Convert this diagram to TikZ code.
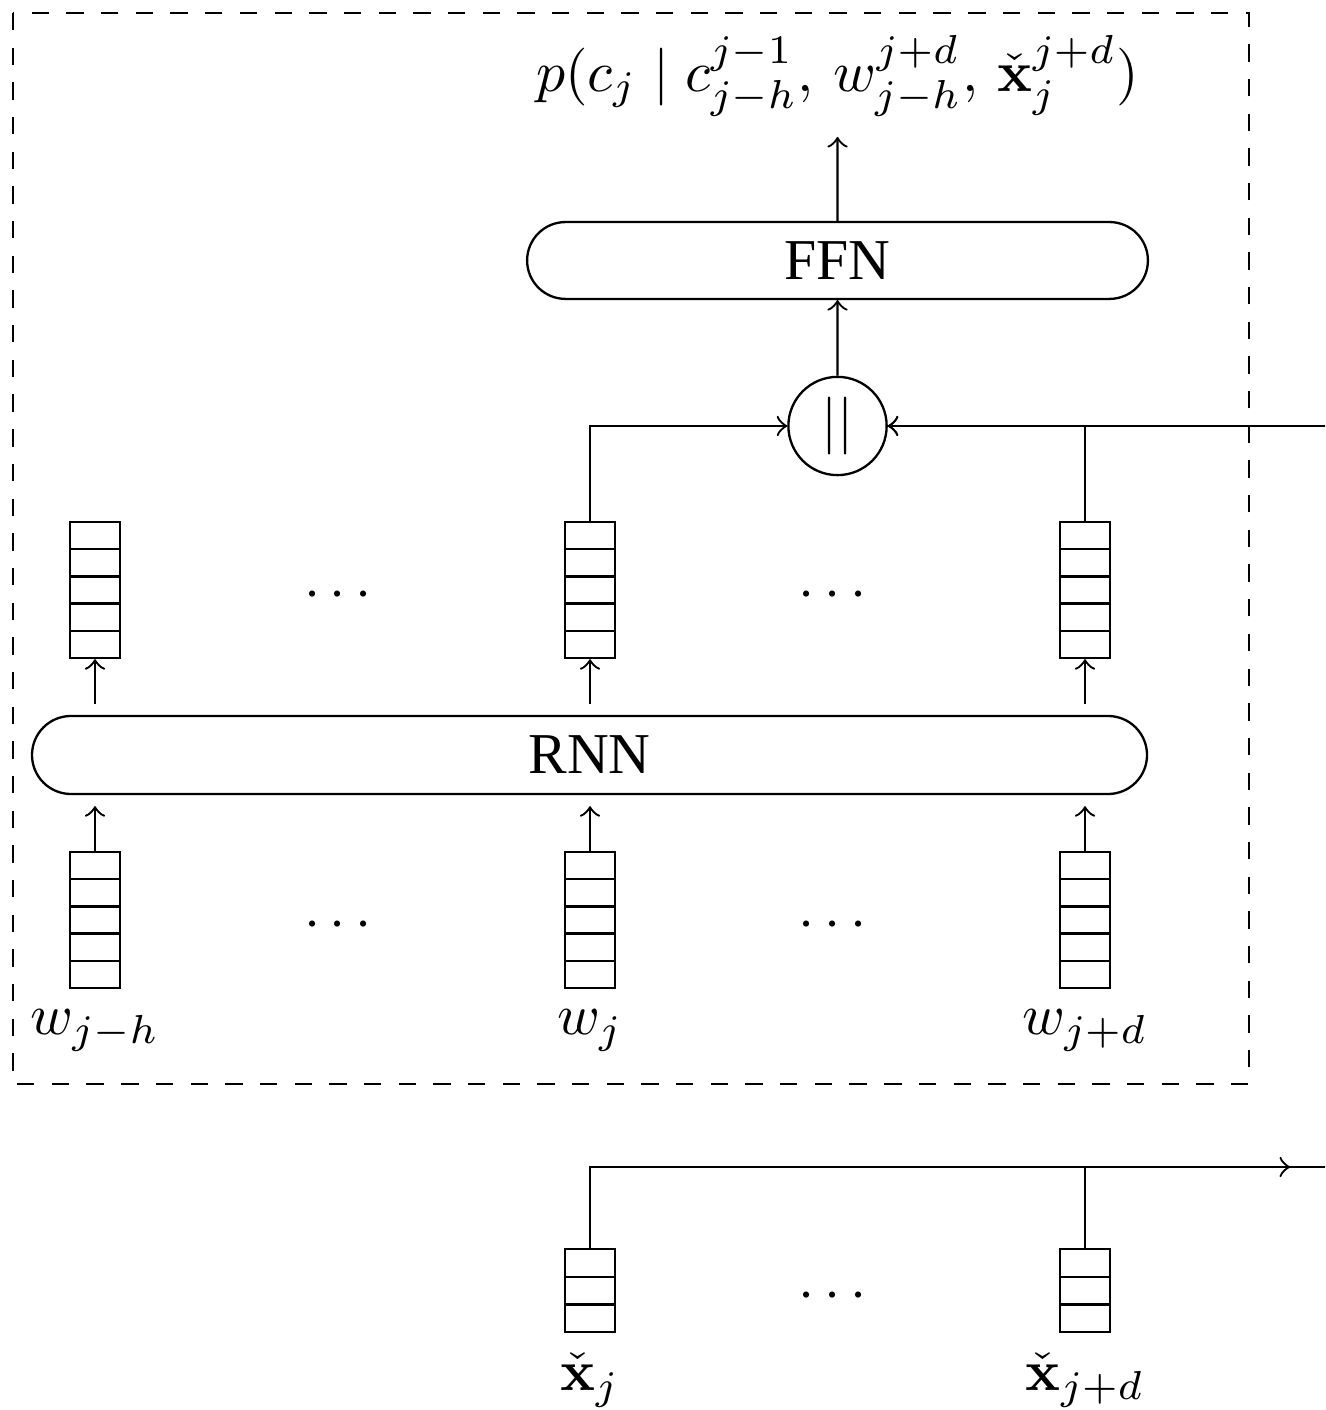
\documentclass[tikz,border=0pt]{standalone}
\usepackage[no-math]{fontspec}
\setmainfont{Liberation Serif}
\usetikzlibrary{shapes.misc,calc}

\tikzset{
  cells/.style={
    path picture={
      \foreach \f in {#1}
        \draw ($(path picture bounding box.south west)!\f!(path picture bounding box.north west)$)
           -- ($(path picture bounding box.south east)!\f!(path picture bounding box.north east)$);
    }
  },
  vecfive/.style={draw, rectangle, inner sep=0pt, minimum width=8.65pt,
    minimum height=23.53pt, cells={0.2,0.4,0.6,0.8}},
  vecthree/.style={draw, rectangle, inner sep=0pt, minimum width=8.65pt,
    minimum height=14.36pt, cells={0.3333,0.6667}},
  pill/.style={draw, rounded rectangle, inner sep=0pt},
  catnode/.style={draw, circle, inner sep=0pt, minimum size=17pt},
  frame/.style={dashed},
  lbl/.style={below},
  dots/.style={yshift=-1.05pt}
}

\begin{document}
\begin{tikzpicture}[x=0.173pt, y=-0.173pt, >=to]
  \path[use as bounding box, clip] (0,0) rectangle (1325,1410);

  % encoder frame
  \draw[frame] (13,13) rectangle (1249,1084);

  % word embeddings
  \node[vecfive] (w1) at (95,920) {};
  \node[vecfive] (w2) at (590,920) {};
  \node[vecfive] (w3) at (1085,920) {};
  \node[lbl] at (w1.south) {$w_{j-h}$};
  \node[lbl] at (w2.south) {$w_j$};
  \node[lbl] at (w3.south) {$w_{j+d}$};
  \node[dots] (d1) at (338,920) {$\cdots$};
  \node[dots] (d2) at (832.5,920) {$\cdots$};

  % recurrent layer
  \node[pill, minimum width=192.9pt, minimum height=13.5pt] (rnn) at (589.5,755) {RNN};

  % hidden states
  \node[vecfive] (h1) at (95,590) {};
  \node[vecfive] (h2) at (590,590) {};
  \node[vecfive] (h3) at (1085,590) {};
  \node[dots] (d3) at (338,590) {$\cdots$};
  \node[dots] (d4) at (832.5,590) {$\cdots$};

  % concatenation and output
  \node[catnode] (cat) at (837.5,426) {$||$};
  \node[pill, minimum width=107.4pt, minimum height=13.3pt] (ffn) at (837.5,260.5) {FFN};
  \node[anchor=south] (out) at (837.5,137)
    {$p(c_j \mid c_{j-h}^{j-1},\, w_{j-h}^{j+d},\, \check{\mathbf{x}}_j^{j+d})$};

  % context vectors
  \node[vecthree] (x1) at (590,1290.5) {};
  \node[vecthree] (x2) at (1085,1290.5) {};
  \node[lbl] at (x1.south) {$\check{\mathbf{x}}_j$};
  \node[lbl] at (x2.south) {$\check{\mathbf{x}}_{j+d}$};
  \node[dots] (d5) at (832.5,1290.5) {$\cdots$};

  \coordinate (inR) at (1345,426);
  \coordinate (tipR) at (1290,1167);
  \coordinate (outR) at (1345,1167);

  % connectors
  \foreach \w in {w1,w2,w3}
    \draw[->, shorten >=1.9pt] (\w.north) -- (\w |- rnn.south);
  \foreach \h in {h1,h2,h3}
    \draw[->, shorten <=1.9pt] (\h |- rnn.north) -- (\h.south);
  \draw[->] (h2.north) |- (cat.west);
  \draw[->] (h3.north) |- (cat.east);
  \draw[->] (inR) -- (cat.east);
  \draw[->] (cat) -- (ffn);
  \draw[->] (ffn) -- (out);
  \draw[->] (x1.north) |- (tipR);
  \draw (x2.north) |- (outR);
\end{tikzpicture}
\end{document}
